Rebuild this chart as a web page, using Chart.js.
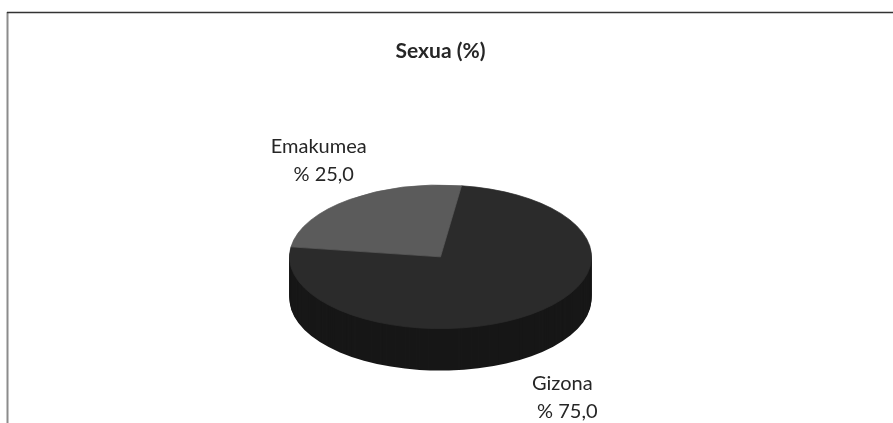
<!DOCTYPE html>
<html>
<head>
<meta charset="utf-8">
<script src="https://cdn.jsdelivr.net/npm/chart.js@4.4.1/dist/chart.umd.min.js"></script>
<style>
html, body { margin: 0; padding: 0; background: #fff; }
#wrap { width: 893px; height: 423px; }
</style>
</head>
<body>
<div id="wrap"><canvas id="sexuaChart" width="893" height="423"></canvas></div>
<script>
"use strict";
// Sexua (%)
const categories = ['Gizona', 'Emakumea'];
const percents = [75.0, 25.0];
const topColors = ['#2b2b2b', '#5b5b5b'];
const sideColor = '#171717';

const tilt = 72 / 151.5;   // vertical squash of the pie disc
const depth = 42;          // thickness of the disc, px

// draws the disc's side under the slices and squashes them into an ellipse
const pie3d = {
    id: 'pie3d',
    beforeDatasetsDraw(chart) {
        const ctx = chart.ctx;
        const arcs = chart.getDatasetMeta(0).data;
        const cy = arcs[0].y;
        ctx.save();
        ctx.translate(0, cy);
        ctx.scale(1, tilt);
        ctx.translate(0, -cy);
        const step = 1 / tilt;
        ctx.fillStyle = sideColor;
        for (let d = depth; d > 0; d--) {
            arcs.forEach(arc => {
                const p = arc.getProps(['x', 'y', 'startAngle', 'endAngle', 'outerRadius'], true);
                ctx.beginPath();
                ctx.moveTo(p.x, p.y + d * step);
                ctx.arc(p.x, p.y + d * step, p.outerRadius, p.startAngle, p.endAngle);
                ctx.closePath();
                ctx.fill();
            });
        }
    },
    afterDatasetsDraw(chart) {
        chart.ctx.restore();
    }
};

// category name and value outside each slice
const sliceLabels = {
    id: 'sliceLabels',
    afterDraw(chart) {
        const ctx = chart.ctx;
        const arcs = chart.getDatasetMeta(0).data;
        ctx.save();
        ctx.font = '20px Lato';
        ctx.fillStyle = '#262626';
        ctx.textAlign = 'center';
        ctx.textBaseline = 'middle';
        arcs.forEach((arc, i) => {
            const p = arc.getProps(['x', 'y', 'startAngle', 'endAngle', 'outerRadius'], true);
            const mid = (p.startAngle + p.endAngle) / 2;
            const dx = Math.cos(mid), dy = Math.sin(mid);
            const x = p.x + dx * p.outerRadius * 1.34;
            const y = p.y + dy * p.outerRadius * tilt * 1.7 + (dy > 0 ? depth : 0);
            ctx.fillText(categories[i], x, y - 13);
            ctx.fillText('% ' + percents[i].toFixed(1).replace('.', ','), x + 5, y + 15);
        });
        ctx.restore();
    }
};

// chart frame: top and left edges
const frame = {
    id: 'frame',
    beforeDraw(chart) {
        const ctx = chart.ctx;
        ctx.save();
        ctx.lineWidth = 2;
        ctx.strokeStyle = '#8c8c8c';
        ctx.beginPath();
        ctx.moveTo(7.5, 12);
        ctx.lineTo(7.5, chart.height);
        ctx.stroke();
        ctx.strokeStyle = '#333';
        ctx.lineWidth = 1.5;
        ctx.beginPath();
        ctx.moveTo(7, 12.5);
        ctx.lineTo(chart.width, 12.5);
        ctx.stroke();
        ctx.restore();
    }
};

new Chart(document.getElementById('sexuaChart'), {
    type: 'pie',
    data: {
        labels: categories,
        datasets: [{
            data: percents,
            backgroundColor: topColors,
            borderColor: topColors,
            borderWidth: 1,
            clip: false
        }]
    },
    options: {
        responsive: false,
        animation: false,
        rotation: 8,
        layout: {
            padding: { top: 0, left: 289, right: 301, bottom: 14.5 }
        },
        plugins: {
            legend: { display: false },
            tooltip: { enabled: false },
            title: {
                display: true,
                text: 'Sexua (%)',
                color: '#262626',
                font: { family: 'Lato', size: 21, weight: 'bold' },
                padding: { top: 39, bottom: 41 }
            }
        }
    },
    plugins: [frame, pie3d, sliceLabels]
});
</script>
</body>
</html>
